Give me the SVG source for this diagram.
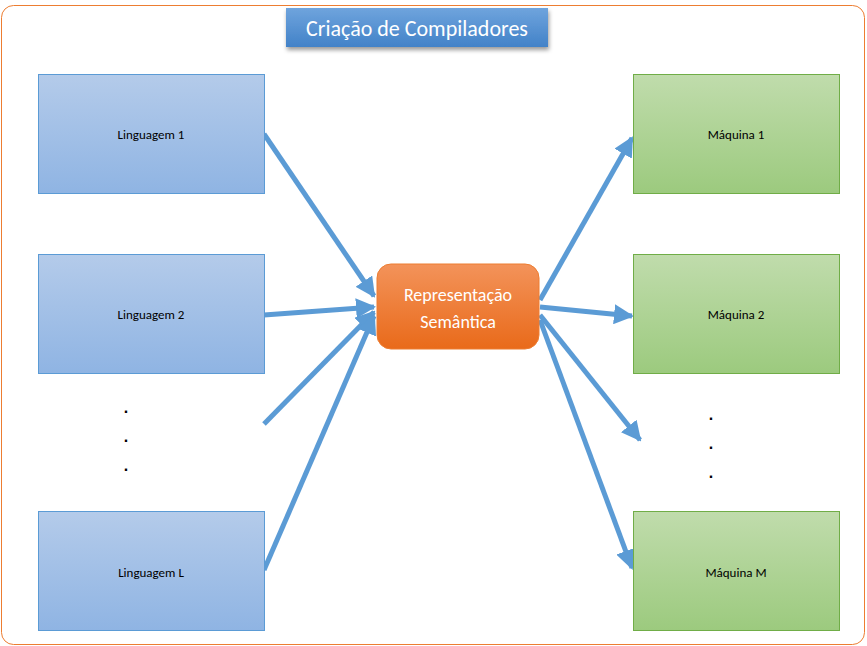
<svg xmlns="http://www.w3.org/2000/svg" width="867" height="646" viewBox="0 0 867 646">
<defs>
<linearGradient id="gb" x1="0" y1="0" x2="0" y2="1"><stop offset="0" stop-color="#b4cbea"/><stop offset="1" stop-color="#8fb4e3"/></linearGradient>
<linearGradient id="gg" x1="0" y1="0" x2="0" y2="1"><stop offset="0" stop-color="#c0dcac"/><stop offset="1" stop-color="#9cca7e"/></linearGradient>
<linearGradient id="go" x1="0" y1="0" x2="0" y2="1"><stop offset="0" stop-color="#f3935a"/><stop offset="1" stop-color="#e96a1a"/></linearGradient>
<linearGradient id="gt" x1="0" y1="0" x2="0" y2="1"><stop offset="0" stop-color="#6fa4dd"/><stop offset="1" stop-color="#4282c8"/></linearGradient>
<marker id="ah" viewBox="0 0 10 10" refX="9" refY="5" markerWidth="4" markerHeight="4" orient="auto" markerUnits="strokeWidth"><path d="M0,0L10,5L0,10z" fill="#5b9bd5"/></marker>
<filter id="sh" x="-10%" y="-10%" width="120%" height="140%"><feDropShadow dx="1" dy="3" stdDeviation="2" flood-opacity="0.4"/></filter>
</defs>
<style>
.l{fill:url(#gb);stroke:#5b9bd5;stroke-width:1}
.m{fill:url(#gg);stroke:#70ad47;stroke-width:1}
.t{font-family:Calibri,Carlito,"Liberation Sans",sans-serif;font-size:13px;text-anchor:middle;fill:#000}
.c line{stroke:#5b9bd5;stroke-width:5;marker-end:url(#ah)}
.d{font-family:"Liberation Sans",sans-serif;font-size:16px;font-weight:bold;text-anchor:middle}
</style>
<rect x="1.5" y="5.5" width="863" height="639" rx="12" fill="#fff" stroke="#ed7d31" stroke-width="1"/>
<g id="title"><rect x="286" y="8" width="262" height="39" fill="url(#gt)" filter="url(#sh)"/><text x="417" y="36" font-family="Calibri,Carlito,'Liberation Sans',sans-serif" font-size="22" fill="#fff" text-anchor="middle">Criação de Compiladores</text></g>
<g class="c">
<line x1="264" y1="134" x2="374" y2="296"/>
<line x1="264" y1="315" x2="374" y2="307"/>
<line x1="264" y1="424" x2="374" y2="312"/>
<line x1="264" y1="570" x2="374" y2="316"/>
<line x1="540" y1="300" x2="632" y2="138"/>
<line x1="540" y1="307" x2="632" y2="316"/>
<line x1="540" y1="315" x2="640" y2="440"/>
<line x1="540" y1="320" x2="632" y2="568"/>
</g>
<g id="l1"><rect class="l" x="38.5" y="74.5" width="226" height="119"/><text class="t" x="151" y="139">Linguagem 1</text></g>
<g id="l2"><rect class="l" x="38.5" y="254.5" width="226" height="119"/><text class="t" x="151" y="319">Linguagem 2</text></g>
<g id="lL"><rect class="l" x="38.5" y="511.5" width="226" height="119"/><text class="t" x="151" y="577">Linguagem L</text></g>
<g id="m1"><rect class="m" x="633.5" y="74.5" width="206" height="119"/><text class="t" x="736" y="139">Máquina 1</text></g>
<g id="m2"><rect class="m" x="633.5" y="254.5" width="206" height="119"/><text class="t" x="736" y="319">Máquina 2</text></g>
<g id="mM"><rect class="m" x="633.5" y="511.5" width="206" height="119"/><text class="t" x="736" y="577">Máquina M</text></g>
<g id="center"><rect x="377" y="264" width="162" height="85" rx="14" fill="url(#go)" stroke="#ed7d31"/>
<text x="458" y="301" font-family="Calibri,Carlito,'Liberation Sans',sans-serif" font-size="18" fill="#fff" text-anchor="middle">Representação</text>
<text x="458" y="328" font-family="Calibri,Carlito,'Liberation Sans',sans-serif" font-size="18" fill="#fff" text-anchor="middle">Semântica</text></g>
<text class="d" x="126" y="413">.</text><text class="d" x="126" y="442">.</text><text class="d" x="126" y="471">.</text>
<text class="d" x="711" y="420">.</text><text class="d" x="711" y="449">.</text><text class="d" x="711" y="478">.</text>
</svg>
